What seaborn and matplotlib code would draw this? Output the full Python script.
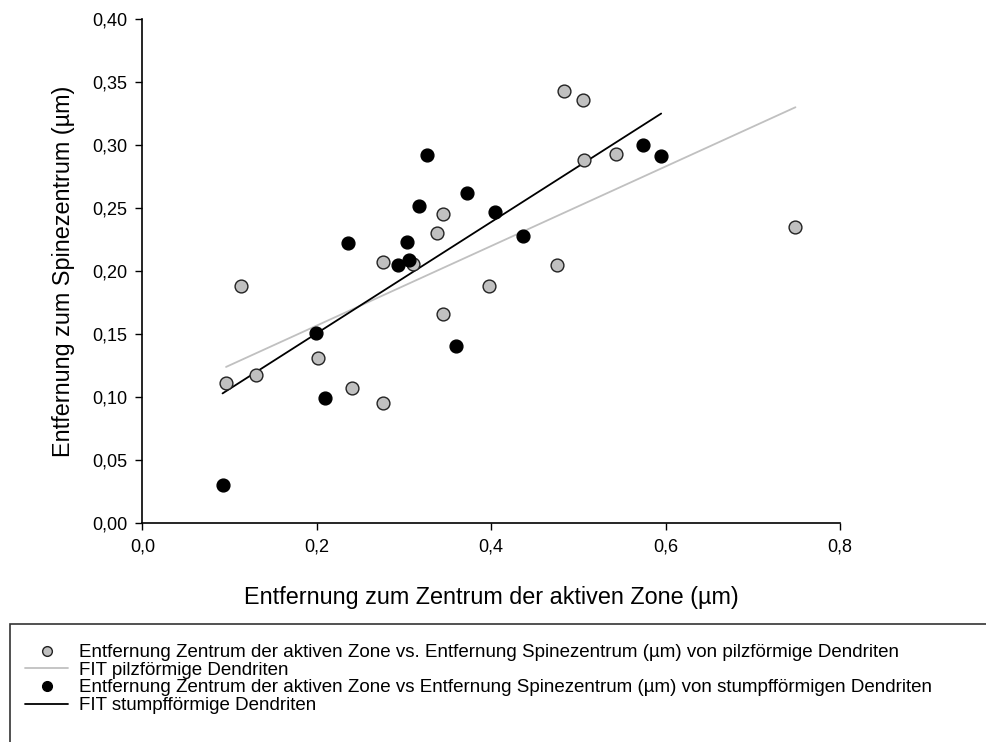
import matplotlib
matplotlib.use("Agg")
import matplotlib.pyplot as plt
from matplotlib.ticker import FuncFormatter, MultipleLocator
from matplotlib.lines import Line2D
from matplotlib.patches import Rectangle
import pandas as pd
import seaborn as sns

sns.set_style("ticks")
plt.rcParams["font.family"] = ["Liberation Sans", "DejaVu Sans"]
plt.rcParams.update({"text.color": "black", "axes.labelcolor": "black",
                     "xtick.color": "black", "ytick.color": "black"})

# pilzfoermige Dendriten (grey)
pilz_x = [0.096, 0.113, 0.130, 0.201, 0.241, 0.276, 0.276, 0.310, 0.338,
          0.345, 0.345, 0.397, 0.475, 0.484, 0.505, 0.507, 0.543, 0.749]
pilz_y = [0.111, 0.188, 0.118, 0.131, 0.107, 0.095, 0.207, 0.206, 0.230,
          0.245, 0.166, 0.188, 0.205, 0.343, 0.336, 0.288, 0.293, 0.235]

# stumpffoermige Dendriten (black)
stumpf_x = [0.092, 0.199, 0.209, 0.236, 0.293, 0.303, 0.306, 0.317, 0.327,
            0.360, 0.372, 0.405, 0.436, 0.574, 0.595]
stumpf_y = [0.030, 0.151, 0.099, 0.222, 0.205, 0.223, 0.209, 0.252, 0.292,
            0.141, 0.262, 0.247, 0.228, 0.300, 0.291]

# fit lines, end points
fit_pilz_x = [0.096, 0.749]
fit_pilz_y = [0.124, 0.330]
fit_stumpf_x = [0.092, 0.595]
fit_stumpf_y = [0.103, 0.325]

labels = [
    "Entfernung Zentrum der aktiven Zone vs. Entfernung Spinezentrum (µm) von pilzförmige Dendriten",
    "FIT pilzförmige Dendriten",
    "Entfernung Zentrum der aktiven Zone vs Entfernung Spinezentrum (µm) von stumpfförmigen Dendriten",
    "FIT stumpfförmige Dendriten",
]

pilz = pd.DataFrame({"x": pilz_x, "y": pilz_y})
stumpf = pd.DataFrame({"x": stumpf_x, "y": stumpf_y})

GREY = "#c0c0c0"

fig = plt.figure(figsize=(9.87, 7.42), dpi=100)
ax = fig.add_axes([0.1442, 0.2948, 0.851 - 0.1442, 0.9744 - 0.2948])

sns.lineplot(x=fit_pilz_x, y=fit_pilz_y, ax=ax, color=GREY, lw=1.3, zorder=1)
sns.lineplot(x=fit_stumpf_x, y=fit_stumpf_y, ax=ax, color="black", lw=1.3, zorder=1)
sns.scatterplot(data=pilz, x="x", y="y", ax=ax, color=GREY, edgecolor="#222222",
                linewidth=1.0, s=85, zorder=2)
sns.scatterplot(data=stumpf, x="x", y="y", ax=ax, color="black", edgecolor="black",
                linewidth=1.0, s=85, zorder=3)

ax.set_xlim(0, 0.8)
ax.set_ylim(0, 0.4)
ax.xaxis.set_major_locator(MultipleLocator(0.2))
ax.yaxis.set_major_locator(MultipleLocator(0.05))
ax.xaxis.set_major_formatter(FuncFormatter(lambda v, p: f"{v:.1f}".replace(".", ",")))
ax.yaxis.set_major_formatter(FuncFormatter(lambda v, p: f"{v:.2f}".replace(".", ",")))
ax.tick_params(axis="both", direction="out", length=5, width=1, labelsize=13, pad=6)
sns.despine(ax=ax)
for sp in ("left", "bottom"):
    ax.spines[sp].set_linewidth(1.2)
    ax.spines[sp].set_color("black")

ax.set_xlabel("Entfernung zum Zentrum der aktiven Zone (µm)", fontsize=16.8, labelpad=22)
ax.set_ylabel("Entfernung zum Spinezentrum (µm)", fontsize=16.8, labelpad=12)

# legend box runs off the right and bottom edge of the figure
fig.patches.append(Rectangle((10 / 987, -0.1), 1.2, 0.1 + 1 - 624 / 742,
                             transform=fig.transFigure, fill=False,
                             edgecolor="#333333", linewidth=1.2))

handles = [
    Line2D([], [], ls="none", marker="o", markersize=7, markerfacecolor=GREY,
           markeredgecolor="#222222", markeredgewidth=1),
    Line2D([], [], color=GREY, lw=1.3),
    Line2D([], [], ls="none", marker="o", markersize=7, markerfacecolor="black",
           markeredgecolor="black"),
    Line2D([], [], color="black", lw=1.3),
]
leg = fig.legend(handles, labels, loc="upper left",
                 bbox_to_anchor=(25 / 987, 1 - 644 / 742), frameon=False, fontsize=13.5,
                 handlelength=2.3, handletextpad=0.6, labelspacing=0.03,
                 borderaxespad=0, borderpad=0)

fig.savefig("out.png", dpi=100)
